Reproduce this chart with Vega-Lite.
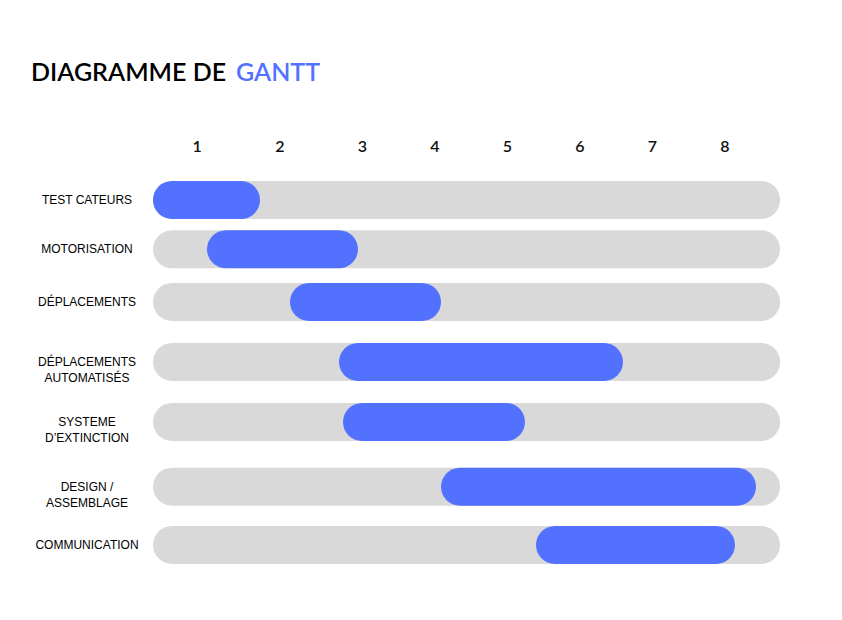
{
  "$schema": "https://vega.github.io/schema/vega-lite/v6.json",
  "width": 842,
  "height": 620,
  "autosize": "none",
  "padding": 0,
  "background": "white",
  "config": {"view": {"stroke": null}},
  "datasets": {
    "tasks": [
      {"task": "TEST CATEURS", "label": "TEST CATEURS", "start": 0.11, "end": 1.586, "pos": 0},
      {"task": "MOTORISATION", "label": "MOTORISATION", "start": 0.855, "end": 2.938, "pos": 0.82},
      {"task": "DÉPLACEMENTS", "label": "DÉPLACEMENTS", "start": 2.0, "end": 4.083, "pos": 1.70},
      {"task": "DÉPLACEMENTS AUTOMATISÉS", "label": "DÉPLACEMENTS\nAUTOMATISÉS", "start": 2.676, "end": 6.593, "pos": 2.70},
      {"task": "SYSTEME D’EXTINCTION", "label": "SYSTEME\nD’EXTINCTION", "start": 2.731, "end": 5.241, "pos": 3.70},
      {"task": "DESIGN / ASSEMBLAGE", "label": "DESIGN /\nASSEMBLAGE", "start": 4.083, "end": 8.428, "pos": 4.78},
      {"task": "COMMUNICATION", "label": "COMMUNICATION", "start": 5.393, "end": 8.138, "pos": 5.75}
    ],
    "weeks": [
      {"week": "1", "wx": 0.72},
      {"week": "2", "wx": 1.86},
      {"week": "3", "wx": 3.0},
      {"week": "4", "wx": 4},
      {"week": "5", "wx": 5},
      {"week": "6", "wx": 6},
      {"week": "7", "wx": 7},
      {"week": "8", "wx": 8}
    ],
    "title": [
      {"part": "DIAGRAMME DE", "tx": -1.572, "color": "black"},
      {"part": "GANTT", "tx": 1.255, "color": "blue"}
    ]
  },
  "layer": [
    {
      "data": {"name": "tasks"},
      "mark": {"type": "bar", "orient": "horizontal", "size": 38, "cornerRadius": 19, "color": "#D9D9D9"},
      "encoding": {
        "x": {"datum": 0.11, "type": "quantitative", "scale": {"domain": [-2, 9.614], "range": [0, 842], "nice": false, "zero": false, "padding": 0}, "axis": null},
        "x2": {"datum": 8.76},
        "y": {"field": "pos", "type": "quantitative", "scale": {"domain": [-3.3333, 7], "range": [0, 620], "nice": false, "zero": false, "padding": 0}, "axis": null}
      }
    },
    {
      "data": {"name": "tasks"},
      "mark": {"type": "bar", "orient": "horizontal", "size": 38, "cornerRadius": 19, "color": "#5271FF"},
      "encoding": {
        "x": {"field": "start", "type": "quantitative"},
        "x2": {"field": "end"},
        "y": {"field": "pos", "type": "quantitative"}
      }
    },
    {
      "data": {"name": "tasks"},
      "transform": [{"calculate": "split(datum.label, '\\n')", "as": "lines"}],
      "mark": {"type": "text", "align": "center", "baseline": "middle", "font": "Liberation Sans", "fontSize": 12, "color": "#000000", "lineHeight": 16},
      "encoding": {
        "x": {"datum": -0.8, "type": "quantitative"},
        "y": {"field": "pos", "type": "quantitative"},
        "text": {"field": "lines"}
      }
    },
    {
      "data": {"name": "weeks"},
      "mark": {"type": "text", "align": "center", "baseline": "middle", "font": "Lato", "fontWeight": 600, "fontSize": 16, "color": "#111111"},
      "encoding": {
        "x": {"field": "wx", "type": "quantitative"},
        "y": {"datum": -0.883, "type": "quantitative"},
        "text": {"field": "week"}
      }
    },
    {
      "data": {"name": "title"},
      "mark": {"type": "text", "align": "left", "baseline": "middle", "font": "Lato", "fontWeight": 600, "fontSize": 25},
      "encoding": {
        "x": {"field": "tx", "type": "quantitative"},
        "y": {"datum": -2.117, "type": "quantitative"},
        "text": {"field": "part"},
        "color": {"field": "color", "type": "nominal", "scale": {"domain": ["black", "blue"], "range": ["#000000", "#5271FF"]}, "legend": null}
      }
    }
  ]
}
